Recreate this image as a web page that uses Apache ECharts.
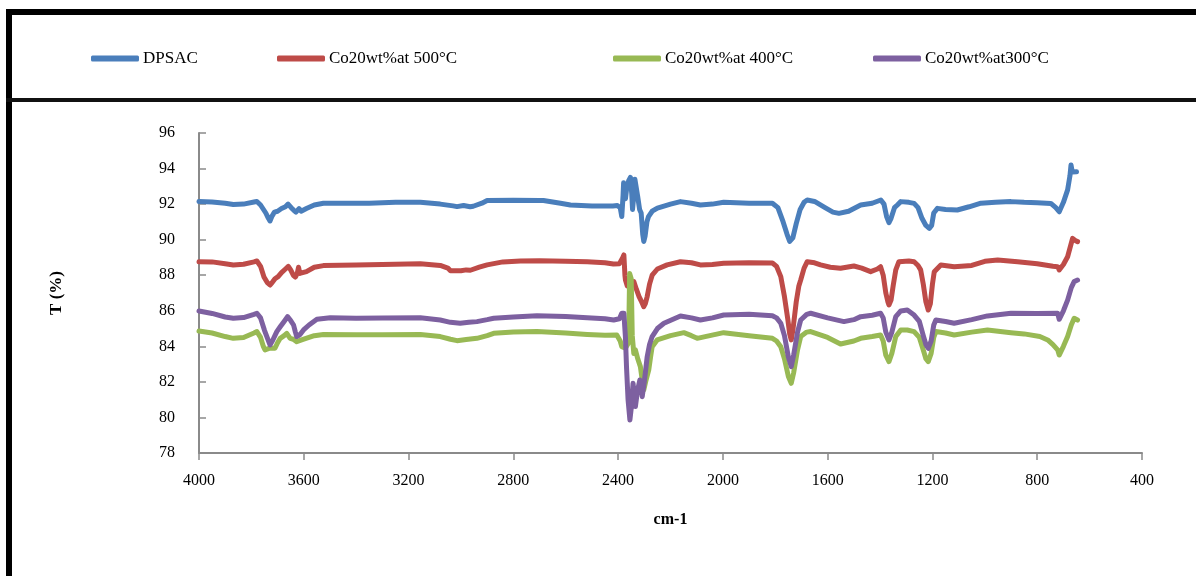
<!DOCTYPE html>
<html>
<head>
<meta charset="utf-8">
<title>FTIR spectra</title>
<script src="https://cdn.jsdelivr.net/npm/echarts@6/dist/echarts.min.js"></script>
<style>
  html, body { margin: 0; padding: 0; background: #fff; }
  #chart { width: 1196px; height: 576px; }
</style>
</head>
<body>
<div id="chart"></div>
<script>
// FTIR transmittance spectra: [wavenumber (cm-1), T (%)]
const seriesNames = ['DPSAC', 'Co20wt%at 500°C', 'Co20wt%at 400°C', 'Co20wt%at300°C'];
const seriesColors = ['#4a7ebb', '#be4b48', '#98b954', '#7d60a0'];

const dpsac = [
  [4000,92.15],[3950,92.12],[3900,92.05],[3869,91.98],[3830,92.0],[3790,92.12],[3779,92.15],
  [3765,91.95],[3745,91.5],[3735,91.2],[3729,91.05],[3722,91.3],[3712,91.55],[3700,91.6],
  [3685,91.75],[3670,91.85],[3660,92.0],[3648,91.8],[3638,91.65],[3630,91.55],[3625,91.6],
  [3618,91.75],[3610,91.6],[3590,91.75],[3560,91.95],[3525,92.05],[3450,92.05],[3350,92.05],
  [3250,92.1],[3155,92.1],[3079,92.0],[3030,91.9],[3015,91.86],[2990,91.92],[2965,91.85],
  [2953,91.88],[2920,92.05],[2900,92.2],[2800,92.22],[2700,92.2],[2685,92.2],[2620,92.05],
  [2582,91.95],[2500,91.9],[2420,91.9],[2403,91.92],[2392,91.8],[2386,91.3],[2384,91.2],
  [2381,92.5],[2379,93.2],[2372,92.3],[2368,92.8],[2360,93.3],[2353,93.5],[2348,92.6],
  [2345,91.7],[2340,92.5],[2336,93.4],[2331,93.3],[2325,92.4],[2318,91.7],[2312,91.5],
  [2306,90.3],[2302,89.9],[2297,90.2],[2290,91.0],[2284,91.3],[2270,91.6],[2250,91.78],
  [2200,92.0],[2162,92.14],[2120,92.05],[2086,91.95],[2040,92.0],[1997,92.1],[1900,92.05],
  [1811,92.05],[1790,91.8],[1770,91.0],[1755,90.3],[1745,89.9],[1741,89.8],[1733,90.1],
  [1720,90.9],[1705,91.7],[1690,92.1],[1678,92.23],[1650,92.15],[1610,91.8],[1580,91.55],
  [1557,91.48],[1520,91.6],[1474,91.95],[1430,92.05],[1397,92.23],[1385,92.0],[1375,91.3],
  [1366,90.96],[1358,91.2],[1345,91.8],[1334,91.95],[1321,92.14],[1290,92.1],[1270,92.04],
  [1255,91.8],[1240,91.2],[1225,90.8],[1212,90.64],[1203,90.8],[1195,91.5],[1181,91.76],
  [1150,91.7],[1105,91.67],[1060,91.85],[1015,92.05],[960,92.1],[900,92.14],[850,92.1],
  [800,92.08],[748,92.04],[729,91.8],[716,91.57],[700,92.1],[684,92.8],[675,93.6],
  [671,94.2],[666,93.8],[660,93.9],[650,93.82]
];

const co500 = [
  [4000,88.76],[3950,88.75],[3900,88.65],[3869,88.58],[3830,88.62],[3790,88.75],[3779,88.8],
  [3765,88.5],[3752,87.9],[3740,87.6],[3729,87.45],[3720,87.6],[3710,87.8],[3698,87.92],
  [3685,88.15],[3670,88.35],[3659,88.5],[3650,88.3],[3640,88.0],[3632,87.9],[3625,88.1],
  [3620,88.45],[3615,88.1],[3608,88.0],[3590,88.2],[3560,88.45],[3525,88.54],[3400,88.58],
  [3300,88.6],[3155,88.65],[3079,88.55],[3050,88.4],[3040,88.25],[3034,88.2],[3000,88.25],
  [2980,88.3],[2964,88.28],[2930,88.45],[2900,88.58],[2840,88.75],[2773,88.8],[2700,88.82],
  [2600,88.78],[2518,88.76],[2450,88.7],[2418,88.63],[2395,88.65],[2390,88.6],[2382,89.0],
  [2378,89.14],[2374,88.0],[2372,87.73],[2365,87.4],[2359,87.36],[2350,87.6],[2340,87.64],
  [2330,87.2],[2320,86.8],[2310,86.5],[2302,86.23],[2296,86.4],[2289,86.8],[2280,87.5],
  [2270,88.0],[2250,88.35],[2213,88.58],[2162,88.76],[2120,88.7],[2086,88.58],[2040,88.6],
  [1997,88.67],[1900,88.7],[1811,88.69],[1795,88.5],[1779,87.92],[1765,86.8],[1752,85.5],
  [1745,84.7],[1739,84.36],[1732,85.0],[1720,86.5],[1710,87.4],[1703,87.73],[1690,88.4],
  [1678,88.76],[1650,88.7],[1627,88.58],[1590,88.45],[1551,88.39],[1500,88.52],[1470,88.4],
  [1436,88.2],[1410,88.35],[1398,88.48],[1388,88.0],[1378,87.0],[1370,86.5],[1366,86.33],
  [1358,86.6],[1350,87.4],[1340,88.3],[1328,88.76],[1321,88.86],[1290,88.8],[1270,88.76],
  [1255,88.55],[1245,88.3],[1235,87.5],[1225,86.5],[1216,86.04],[1208,86.4],[1200,87.5],
  [1193,88.2],[1168,88.58],[1117,88.48],[1050,88.55],[1000,88.78],[951,88.86],[875,88.76],
  [800,88.65],[740,88.5],[722,88.48],[716,88.3],[700,88.6],[684,89.04],[665,90.07],
  [655,89.95],[646,89.89]
];

const co400 = [
  [4000,84.86],[3950,84.75],[3900,84.55],[3869,84.45],[3830,84.5],[3790,84.75],[3779,84.83],
  [3765,84.5],[3754,83.98],[3748,83.8],[3730,83.9],[3710,83.89],[3700,84.2],[3690,84.45],
  [3675,84.6],[3665,84.73],[3652,84.45],[3640,84.4],[3627,84.26],[3600,84.4],[3560,84.6],
  [3525,84.67],[3400,84.65],[3300,84.65],[3155,84.67],[3079,84.55],[3040,84.4],[3015,84.32],
  [2980,84.38],[2939,84.45],[2900,84.6],[2875,84.73],[2800,84.8],[2710,84.83],[2600,84.75],
  [2518,84.67],[2450,84.62],[2405,84.64],[2392,84.3],[2386,83.98],[2372,83.9],[2360,84.2],
  [2356,88.1],[2350,87.8],[2346,84.6],[2340,83.6],[2334,83.8],[2325,83.3],[2315,82.86],
  [2306,81.9],[2302,81.55],[2295,82.0],[2283,82.67],[2276,83.4],[2270,83.98],[2251,84.36],
  [2200,84.6],[2149,84.77],[2120,84.6],[2098,84.45],[2050,84.6],[1997,84.77],[1900,84.6],
  [1811,84.45],[1795,84.3],[1779,83.98],[1765,83.3],[1750,82.3],[1739,81.92],[1730,82.5],
  [1715,83.8],[1703,84.55],[1680,84.8],[1665,84.83],[1600,84.5],[1551,84.13],[1500,84.3],
  [1474,84.45],[1430,84.55],[1398,84.64],[1388,84.3],[1378,83.5],[1366,83.14],[1355,83.6],
  [1340,84.55],[1321,84.92],[1296,84.92],[1270,84.83],[1250,84.5],[1235,83.8],[1225,83.3],
  [1216,83.14],[1205,83.6],[1195,84.5],[1187,84.83],[1150,84.75],[1117,84.64],[1050,84.8],
  [990,84.92],[900,84.77],[850,84.7],[790,84.55],[760,84.36],[740,84.1],[722,83.8],
  [716,83.51],[700,84.0],[684,84.55],[670,85.2],[659,85.58],[646,85.48]
];

const co300 = [
  [4000,85.99],[3950,85.85],[3900,85.65],[3869,85.58],[3830,85.62],[3790,85.8],[3779,85.86],
  [3765,85.6],[3750,84.9],[3741,84.55],[3729,84.08],[3720,84.3],[3703,84.83],[3690,85.1],
  [3675,85.4],[3662,85.67],[3650,85.45],[3639,85.2],[3632,84.8],[3627,84.55],[3615,84.65],
  [3601,84.92],[3580,85.2],[3550,85.52],[3499,85.61],[3400,85.58],[3300,85.6],[3155,85.61],
  [3079,85.48],[3040,85.35],[3003,85.3],[2970,85.35],[2939,85.39],[2900,85.5],[2875,85.58],
  [2800,85.65],[2710,85.72],[2600,85.68],[2518,85.61],[2450,85.55],[2417,85.48],[2395,85.55],
  [2386,85.86],[2378,85.86],[2372,84.5],[2368,82.86],[2362,81.0],[2355,79.86],[2350,80.5],
  [2343,81.92],[2338,81.2],[2334,80.61],[2326,81.5],[2317,82.11],[2310,81.6],[2308,81.17],
  [2300,82.0],[2289,83.42],[2280,84.1],[2270,84.55],[2250,85.0],[2225,85.3],[2162,85.71],
  [2120,85.6],[2086,85.48],[2040,85.6],[1997,85.76],[1900,85.8],[1811,85.72],[1795,85.6],
  [1779,85.3],[1765,84.6],[1750,83.4],[1739,82.86],[1730,83.5],[1715,84.8],[1703,85.48],
  [1680,85.8],[1665,85.86],[1600,85.6],[1538,85.39],[1500,85.5],[1474,85.67],[1430,85.75],
  [1398,85.86],[1388,85.6],[1378,84.8],[1366,84.36],[1355,84.8],[1340,85.67],[1321,85.99],
  [1296,86.04],[1270,85.76],[1250,85.4],[1235,84.6],[1225,84.1],[1216,83.89],[1205,84.3],
  [1195,85.2],[1187,85.48],[1150,85.4],[1117,85.3],[1050,85.5],[990,85.71],[900,85.86],
  [800,85.85],[722,85.86],[716,85.52],[700,86.0],[684,86.6],[670,87.3],[659,87.64],[646,87.73]
];

const seriesData = [dpsac, co500, co400, co300];
const legendLeft = [91, 277, 613, 873];

const FONT = '"Liberation Serif", "Times New Roman", serif';
const AXIS_GREY = '#8a8a8a';

const chart = echarts.init(document.getElementById('chart'), null, { renderer: 'canvas' });

const option = {
  backgroundColor: '#ffffff',
  animation: false,
  textStyle: { fontFamily: FONT, color: '#000' },
  legend: seriesNames.map((name, i) => ({
    data: [name],
    left: legendLeft[i],
    top: 50,
    padding: 0,
    icon: 'roundRect',
    itemWidth: 48,
    itemHeight: 6,
    itemGap: 4,
    textStyle: { fontFamily: FONT, fontSize: 17, color: '#000', padding: [0, 0, 0, -1] },
    selectedMode: false
  })),
  grid: { left: 199, right: 54, top: 133, bottom: 123, containLabel: false },
  xAxis: {
    type: 'value',
    min: 400,
    max: 4000,
    interval: 400,
    inverse: true,
    name: 'cm-1',
    nameLocation: 'middle',
    nameGap: 59,
    nameTextStyle: { fontFamily: FONT, fontSize: 16, fontWeight: 'bold', color: '#000' },
    axisLine: { lineStyle: { color: AXIS_GREY, width: 2 } },
    axisTick: { inside: false, length: 7, lineStyle: { color: AXIS_GREY, width: 1.5 } },
    axisLabel: { margin: 20, fontFamily: FONT, fontSize: 16, color: '#000', formatter: v => String(v) },
    splitLine: { show: false }
  },
  yAxis: {
    type: 'value',
    min: 78,
    max: 96,
    interval: 2,
    name: 'T (%)',
    nameLocation: 'middle',
    nameGap: 134,
    nameRotate: 90,
    nameTextStyle: { fontFamily: FONT, fontSize: 17, fontWeight: 'bold', color: '#000' },
    axisLine: { show: true, lineStyle: { color: AXIS_GREY, width: 2 } },
    axisTick: { show: true, inside: true, length: 7, lineStyle: { color: AXIS_GREY, width: 1.5 } },
    axisLabel: { margin: 24, fontFamily: FONT, fontSize: 16, color: '#000', formatter: v => String(v) },
    splitLine: { show: false }
  },
  series: seriesNames.map((name, i) => ({
    name,
    type: 'line',
    data: seriesData[i],
    showSymbol: false,
    symbol: 'none',
    smooth: false,
    color: seriesColors[i],
    lineStyle: { width: 5, color: seriesColors[i], cap: 'round', join: 'round' },
    emphasis: { disabled: true }
  })),
  graphic: [
    // outer frame: top edge, left edge and the rule under the legend band
    { type: 'rect', shape: { x: 6, y: 9, width: 1190, height: 6 }, style: { fill: '#000' }, silent: true },
    { type: 'rect', shape: { x: 6, y: 9, width: 6, height: 567 }, style: { fill: '#000' }, silent: true },
    { type: 'rect', shape: { x: 6, y: 98, width: 1190, height: 4 }, style: { fill: '#111' }, silent: true }
  ]
};

chart.setOption(option);
</script>
</body>
</html>
